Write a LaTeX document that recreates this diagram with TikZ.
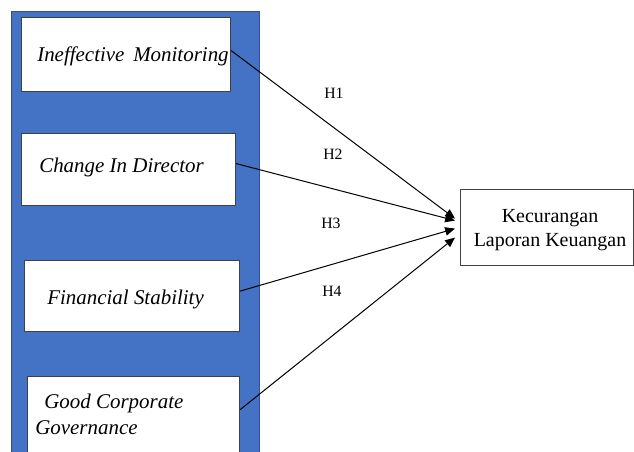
\documentclass[tikz,border=0pt]{standalone}
\usepackage{fontspec}
\setmainfont{Liberation Serif}
\usetikzlibrary{calc,arrows.meta}
\definecolor{panelblue}{HTML}{4472C4}
\definecolor{paneledge}{HTML}{2F528F}
\begin{document}
\begin{tikzpicture}[x=0.025cm,y=-0.025cm,
    varbox/.style={draw=black!75,fill=white,line width=0.03cm,anchor=north west,inner sep=0pt},
    vartext/.style={anchor=base west,inner sep=0pt,font=\fontsize{14.9}{17}\selectfont\itshape},
    hyplabel/.style={inner sep=0pt,font=\fontsize{11.2}{13}\selectfont},
    hyparrow/.style={line width=0.025cm,-{Triangle[length=7pt,width=6pt]}}]
\useasboundingbox (0,0) rectangle (634,452);

% Drawing panel behind the variables
\draw [line width=0.016cm,draw=paneledge,fill=panelblue] (11,11) rectangle (259,455);%

% Drawing box Ineffective Monitoring
\node [varbox,minimum width=209*0.025cm,minimum height=74*0.025cm] (im) at (21,17) {};%
\node [vartext] (imtext) at (37,62) {Ineffective\, Monitoring};%

% Drawing box Change In Director
\node [varbox,minimum width=214*0.025cm,minimum height=72*0.025cm] (cid) at (21,133) {};%
\node [vartext] (cidtext) at (39,173) {Change In Director};%

% Drawing box Financial Stability
\node [varbox,minimum width=215*0.025cm,minimum height=71*0.025cm] (fs) at (24,260) {};%
\node [vartext] (fstext) at (47,305) {Financial Stability};%

% Drawing box Good Corporate Governance
\node [varbox,minimum width=212*0.025cm,minimum height=76*0.025cm] (gcg) at (27,376) {};%
\node [vartext] (gcgtext) at (44,409) {Good Corporate};%
\node [vartext] (gcgtext2) at (35,435) {Governance};%

% Drawing box Kecurangan Laporan Keuangan
\node [varbox,minimum width=173*0.025cm,minimum height=76*0.025cm] (klk) at (460,189) {};%
\node [hyplabel,anchor=base,font=\fontsize{14.2}{17}\selectfont] (klktext) at (550,223) {Kecurangan};%
\node [hyplabel,anchor=base,font=\fontsize{14.2}{17}\selectfont] (klktext2) at (550,247) {Laporan Keuangan};%

% Arrow ends at Kecurangan Laporan Keuangan
\coordinate (t1) at ($(klk.west)+(-5,-9)$);%
\coordinate (t2) at ($(klk.west)+(-5,-7)$);%
\coordinate (t3) at ($(klk.west)+(-5,1)$);%
\coordinate (t4) at ($(klk.west)+(-5,10)$);%

% Drawing arrows H1 to H4
\draw [hyparrow] ($(im.east)+(0,-4)$) -- (t1);%
\draw [hyparrow] ($(cid.east)+(0,-6)$) -- (t2);%
\draw [hyparrow] ($(fs.east)+(0,-5)$) -- (t3);%
\draw [hyparrow] ($(gcg.east)+(0,-5)$) -- (t4);%

% Marking hypotheses
\node [hyplabel] (h1) at (334,93) {H1};%
\node [hyplabel] (h2) at (333,154) {H2};%
\node [hyplabel] (h3) at (331,223) {H3};%
\node [hyplabel] (h4) at (332,291) {H4};%
\end{tikzpicture}
\end{document}
